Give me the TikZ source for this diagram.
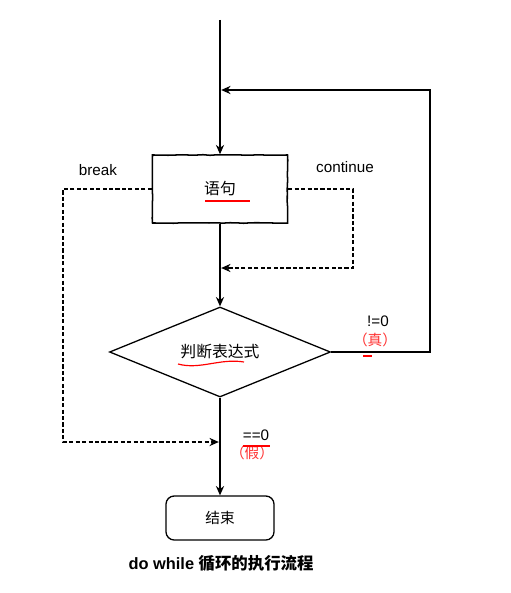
\documentclass[tikz,border=0pt]{standalone}
\usepackage{fontspec}
\setmainfont{Liberation Sans}
\newfontfamily\cjk{Noto Sans CJK SC}
\usetikzlibrary{shapes.geometric,arrows.meta,decorations.pathmorphing}

\tikzset{
  sketch/.style={decorate,decoration={random steps,segment length=6pt,amplitude=0.25pt}},
  stepbox/.style={draw,line width=1.3pt,sketch,minimum width=4.05cm,minimum height=2.04cm},
  testbox/.style={draw,line width=1.1pt,diamond,aspect=2.45,minimum width=6.63cm,minimum height=2.7cm,inner sep=0pt},
  endbox/.style={draw,line width=1.1pt,rounded corners=7pt,minimum width=3.24cm,minimum height=1.32cm},
  flow/.style={line width=1.2pt,-{Stealth[length=8pt,width=7pt]}},
  jump/.style={line width=1pt,dash pattern=on 3.5pt off 2pt,-{Stealth[length=8pt,width=7pt]},shorten >=1pt},
  lbl/.style={font=\fontsize{13}{15}\selectfont},
  redlbl/.style={font=\cjk\fontsize{12.5}{15}\selectfont,text=red!80},
  typo/.style={red,line width=1pt}
}

\begin{document}
\begin{tikzpicture}[x=0.03cm,y=-0.03cm]
  \useasboundingbox (0,0) rectangle (511,593);

  % blocks
  \node[stepbox,font=\cjk\fontsize{13.5}{15}\selectfont] (stmt) at (220,189) {语句};
  \node[testbox,font=\cjk\fontsize{13.5}{15}\selectfont] (cond) at (220,352) {判断表达式};
  \node[endbox,font=\cjk\fontsize{12.5}{15}\selectfont] (stop) at (220,518) {结束};

  \coordinate (top) at (220,20);
  \coordinate (back) at (430,90);
  \coordinate (brk) at (63,442);
  \coordinate (cnt) at (353,268);

  % main flow
  \draw[flow] (top) -- (stmt.north);
  \draw[flow] (stmt.south) -- (cond.north);
  \draw[flow] (cond.south) -- (stop.north);
  \draw[flow] (cond.east) -| (back) -- ([xshift=1pt]back -| stmt.north);

  % break / continue
  \draw[jump] (stmt.west) -| (brk) -- (brk -| cond.south);
  \draw[jump] (stmt.east) -| (cnt) -- (cnt -| stmt.south);

  % labels
  \node[lbl] (lbrk) at (98,170) {break};
  \node[lbl] (lcnt) at (345,167) {continue};
  \node[lbl] (ltrue) at (378,321) {!=0};
  \node[redlbl] (ltrue2) at (375,340) {（真）};
  \node[lbl] (lfalse) at (256,435) {==0};
  \node[redlbl] (lfalse2) at (252,453) {（假）};

  % spell-check marks
  \draw[typo] (205,201) -- (250,201);
  \draw[typo] (178,364) .. controls (200,370) and (220,358) .. (244,362);
  \draw[typo] (363,356) -- (372,356);
  \draw[typo] (243,446) -- (270,446);

  % caption
  \node[font=\bfseries\fontsize{14}{16}\selectfont] (title) at (221,563) {do while {\cjk 循环的执行流程}};
\end{tikzpicture}
\end{document}
